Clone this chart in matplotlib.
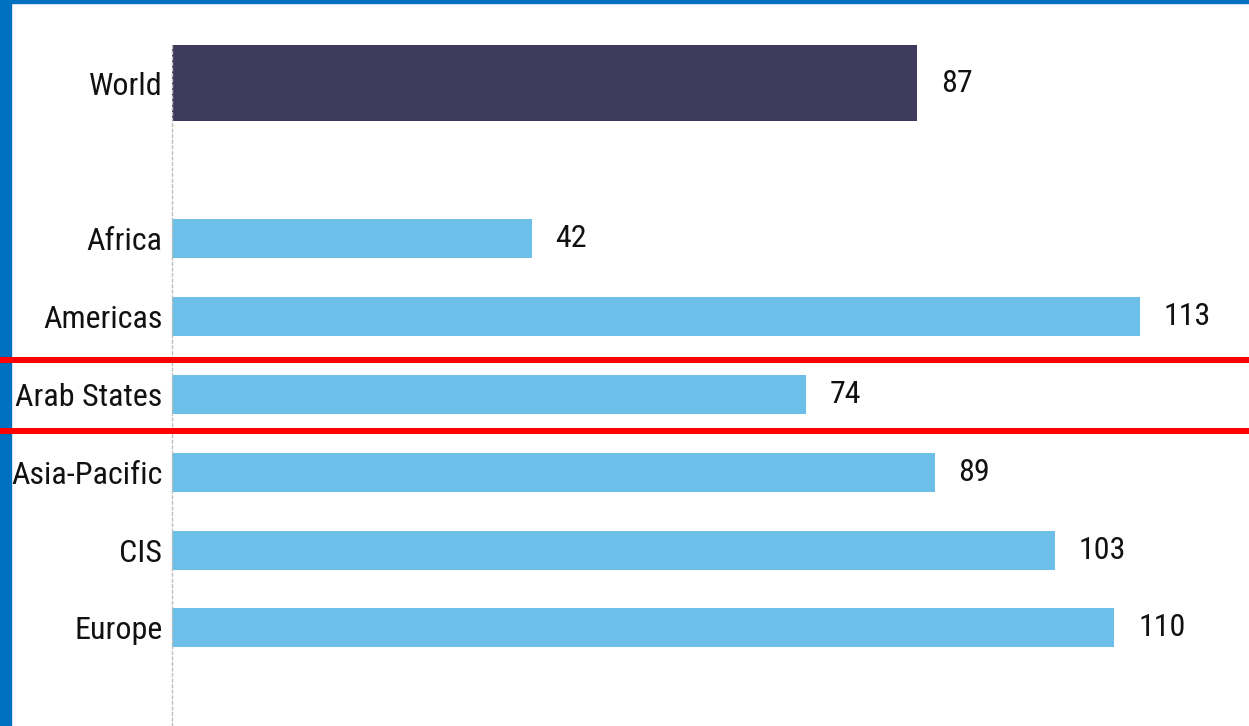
import matplotlib.pyplot as plt
from matplotlib.patches import Rectangle
from matplotlib.lines import Line2D

# data
regions = ['World', 'Africa', 'Americas', 'Arab States', 'Asia-Pacific', 'CIS', 'Europe']
values = [87, 42, 113, 74, 89, 103, 110]

world_color = '#3D3A5E'
region_color = '#6BBFE8'

plt.rcParams['font.family'] = ['Liberation Sans Narrow', 'Roboto Condensed', 'DejaVu Sans']
plt.rcParams['font.stretch'] = 'condensed'

W, H = 1249, 726
fig = plt.figure(figsize=(W / 100, H / 100), dpi=100)

# axes: left edge of bars at x=172px, top at y=45px
ax = fig.add_axes([172 / W, 0, (W - 172) / W, 1 - 45 / H])

# World on its own row, gap, then regions
ypos = [0] + list(range(2, 2 + len(regions) - 1))
heights = [0.98] + [0.5] * (len(regions) - 1)
colors = [world_color] + [region_color] * (len(regions) - 1)

ax.barh(ypos, values, height=heights, color=colors, edgecolor='none')

for y, v in zip(ypos, values):
    ax.annotate(str(v), xy=(v, y), xytext=(17, 0), textcoords='offset points',
                ha='left', va='center', fontsize=23, fontstretch='condensed',
                color='#111111')

ax.set_yticks(ypos)
ax.set_yticklabels(regions, fontsize=23, fontstretch='condensed', color='#111111')
ax.tick_params(axis='y', length=0, pad=7)
ax.set_xticks([])

ax.set_xlim(0, 125.7)
ax.set_ylim(8.26, -0.49)

for s in ['top', 'right', 'bottom']:
    ax.spines[s].set_visible(False)
ax.spines['left'].set_color('#BFBFBF')
ax.spines['left'].set_linestyle((0, (2, 2)))
ax.spines['left'].set_linewidth(1)

# blue frame on left and top
fig.add_artist(Rectangle((0, 0), 11 / W, 1, transform=fig.transFigure,
                         color='#0070C0', zorder=5))
fig.add_artist(Rectangle((0, 1 - 3 / H), 1, 3 / H, transform=fig.transFigure,
                         color='#0070C0', zorder=5))

# red highlight band around Arab States
for yp in [359.7, 431.3]:
    fig.add_artist(Line2D([0, 1], [1 - yp / H, 1 - yp / H], transform=fig.transFigure,
                          color='#FF0000', linewidth=6 * 0.72, zorder=6))

fig.savefig('out.png', dpi=100)
